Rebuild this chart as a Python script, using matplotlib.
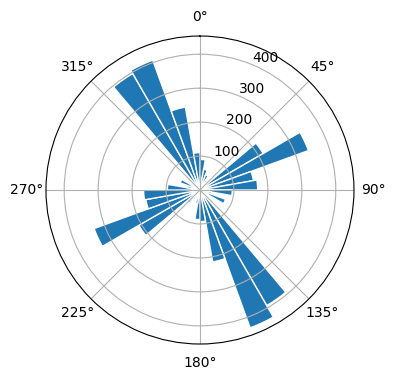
import numpy as np
import matplotlib.pyplot as plt

directions = [5, 15, 25, 35, 45, 55, 65, 75, 85, 95, 105, 115,
              125, 135, 145, 155, 165, 175, 185, 195, 205, 215, 225, 235,
              245, 255, 265, 275, 285, 295, 305, 315, 325, 335, 345, 355]
counts = [90, 62, 48, 35, 30, 215, 340, 160, 170, 95, 35, 80,
          30, 40, 393, 432, 215, 93, 87, 40, 30, 35, 50, 208,
          332, 162, 166, 96, 40, 62, 30, 35, 396, 407, 248, 110]

fig = plt.figure(figsize=(3.96, 3.80), dpi=100)
ax = fig.add_axes([0.116, 0.0947, 0.778, 0.8105], projection="polar")
ax.set_theta_zero_location("N")
ax.set_theta_direction(-1)

ax.bar(np.deg2rad(directions), counts, width=np.deg2rad(10),
       color="C0", edgecolor="white", linewidth=1)

fig.savefig("out.png", dpi=100)
